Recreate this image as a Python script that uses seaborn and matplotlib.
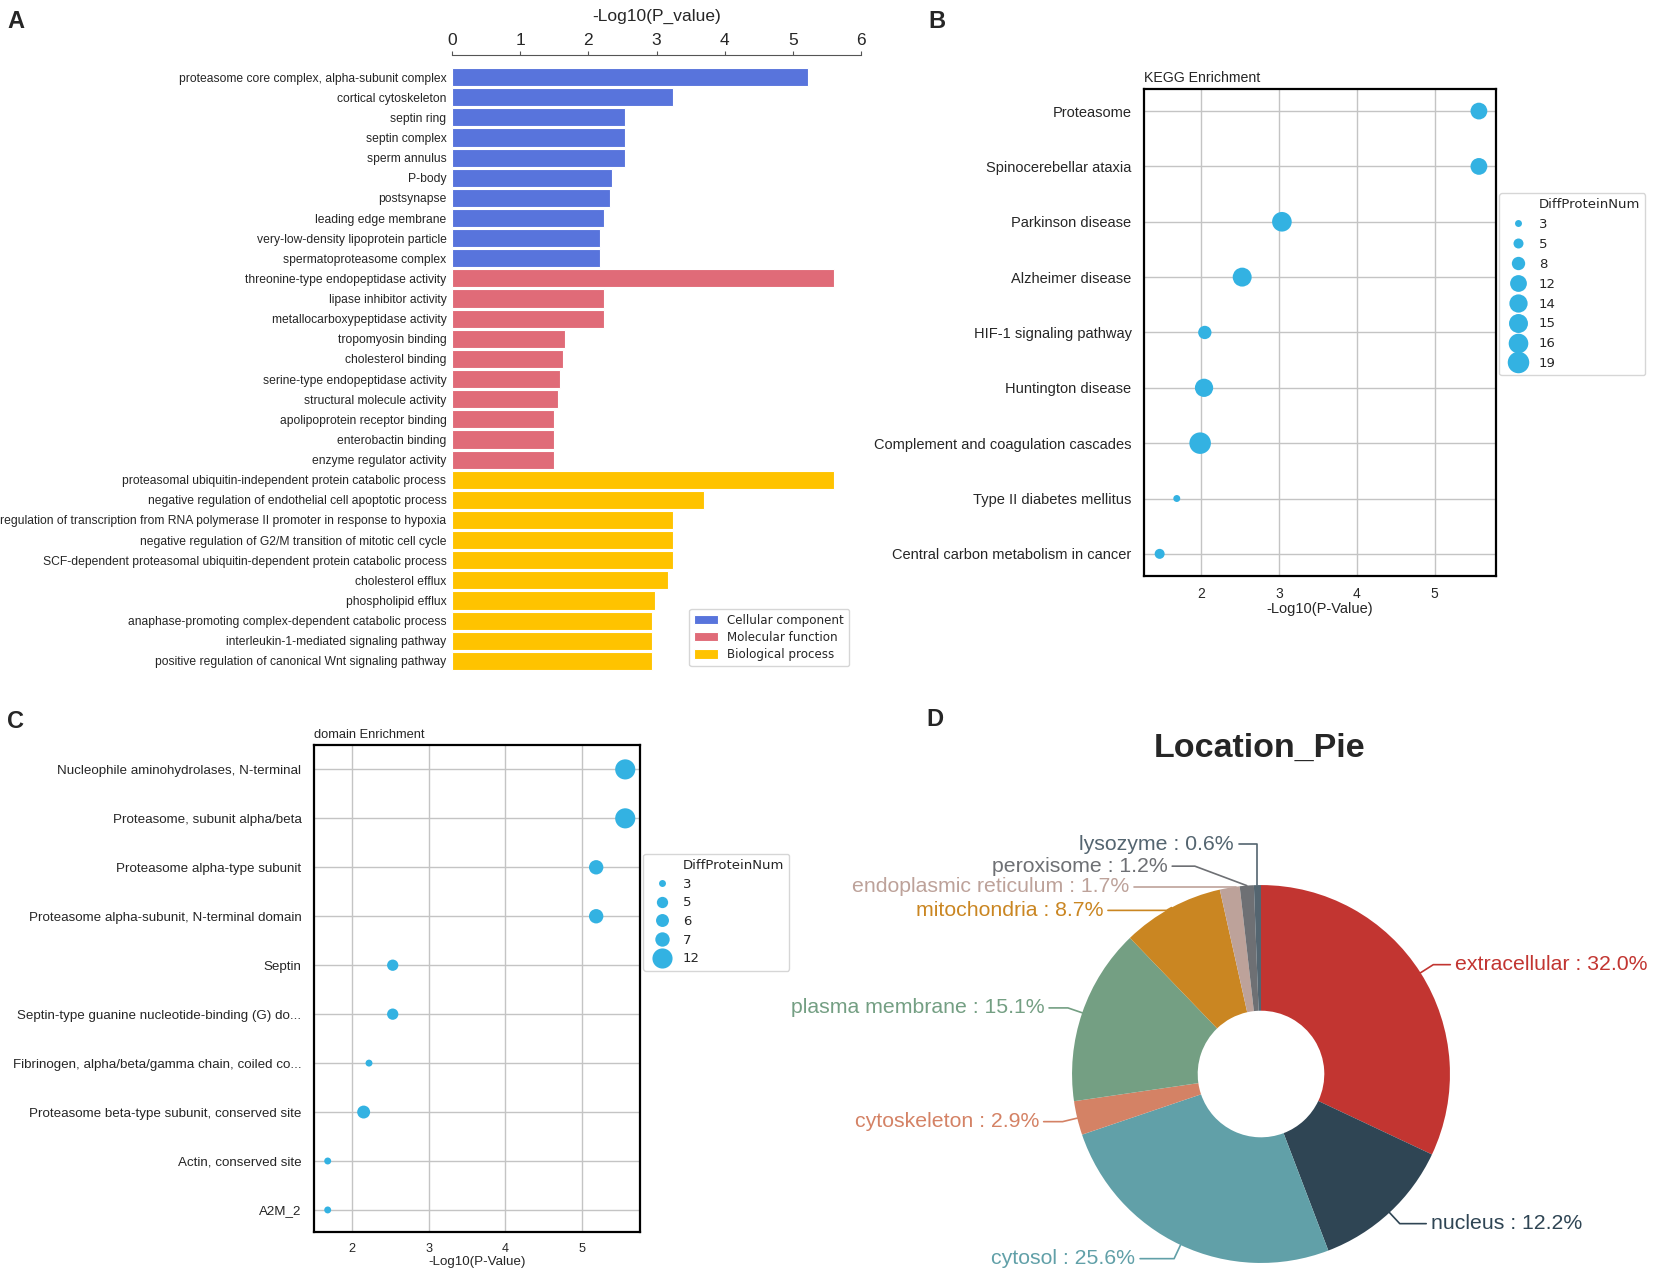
import numpy as np
import pandas as pd
import matplotlib
matplotlib.use("Agg")
import matplotlib.pyplot as plt
from matplotlib.lines import Line2D
import seaborn as sns

# ---------------- data ----------------
go_terms = [
    "proteasome core complex, alpha-subunit complex", "cortical cytoskeleton", "septin ring",
    "septin complex", "sperm annulus", "P-body", "postsynapse", "leading edge membrane",
    "very-low-density lipoprotein particle", "spermatoproteasome complex",
    "threonine-type endopeptidase activity", "lipase inhibitor activity",
    "metallocarboxypeptidase activity", "tropomyosin binding", "cholesterol binding",
    "serine-type endopeptidase activity", "structural molecule activity",
    "apolipoprotein receptor binding", "enterobactin binding", "enzyme regulator activity",
    "proteasomal ubiquitin-independent protein catabolic process",
    "negative regulation of endothelial cell apoptotic process",
    "regulation of transcription from RNA polymerase II promoter in response to hypoxia",
    "negative regulation of G2/M transition of mitotic cell cycle",
    "SCF-dependent proteasomal ubiquitin-dependent protein catabolic process",
    "cholesterol efflux", "phospholipid efflux",
    "anaphase-promoting complex-dependent catabolic process",
    "interleukin-1-mediated signaling pathway",
    "positive regulation of canonical Wnt signaling pathway",
]
go_values = [5.22, 3.24, 2.54, 2.54, 2.54, 2.35, 2.32, 2.23, 2.17, 2.17,
             5.61, 2.23, 2.23, 1.66, 1.63, 1.59, 1.56, 1.49, 1.49, 1.49,
             5.61, 3.70, 3.24, 3.24, 3.24, 3.17, 2.98, 2.93, 2.93, 2.93]
go_groups = ["Cellular component", "Molecular function", "Biological process"]
go_category = [go_groups[0]] * 10 + [go_groups[1]] * 10 + [go_groups[2]] * 10
go_colors = ["#5874DC", "#E06B78", "#FFC300"]

kegg_terms = ["Proteasome", "Spinocerebellar ataxia", "Parkinson disease", "Alzheimer disease",
              "HIF-1 signaling pathway", "Huntington disease",
              "Complement and coagulation cascades", "Type II diabetes mellitus",
              "Central carbon metabolism in cancer"]
kegg_logp = [5.57, 5.57, 3.04, 2.53, 2.05, 2.04, 1.99, 1.69, 1.47]
kegg_num = [12, 12, 16, 15, 8, 14, 19, 3, 5]

dom_terms = ["Nucleophile aminohydrolases, N-terminal", "Proteasome, subunit alpha/beta",
             "Proteasome alpha-type subunit", "Proteasome alpha-subunit, N-terminal domain",
             "Septin", "Septin-type guanine nucleotide-binding (G) do...",
             "Fibrinogen, alpha/beta/gamma chain, coiled co...",
             "Proteasome beta-type subunit, conserved site", "Actin, conserved site", "A2M_2"]
dom_logp = [5.57, 5.57, 5.19, 5.19, 2.53, 2.53, 2.22, 2.15, 1.68, 1.68]
dom_num = [12, 12, 7, 7, 5, 5, 3, 6, 3, 3]

loc_names = ["extracellular", "nucleus", "cytosol", "cytoskeleton", "plasma membrane",
             "mitochondria", "endoplasmic reticulum", "peroxisome", "lysozyme"]
loc_pct = [32.0, 12.2, 25.6, 2.9, 15.1, 8.7, 1.7, 1.2, 0.6]
loc_colors = ["#c23531", "#2f4554", "#61a0a8", "#d48265", "#749f83",
              "#ca8622", "#bda29a", "#6e7074", "#546570"]

dot_color = "#33B2E2"

# ---------------- style ----------------
sns.set_style("white")
plt.rcParams['font.family'] = ['Liberation Sans', 'DejaVu Sans']

fig = plt.figure(figsize=(16.54, 12.76), dpi=100)

# ---------------- A: GO bar chart ----------------
go_df = pd.DataFrame({"term": go_terms, "value": go_values, "category": go_category})
ax_a = fig.add_axes([0.2733, 0.4734, 0.2473, 0.4835])
sns.barplot(data=go_df, x="value", y="term", hue="category", hue_order=go_groups,
            palette=go_colors, saturation=1, dodge=False, width=0.9, edgecolor="white",
            linewidth=0.8, orient="h", ax=ax_a)
ax_a.set_xlim(0, 6)
ax_a.set_ylim(29.55, -1.1)
ax_a.xaxis.tick_top()
ax_a.xaxis.set_label_position("top")
ax_a.set_xticks(range(7))
ax_a.set_xlabel("-Log10(P_value)", fontsize=12.5, labelpad=9)
ax_a.set_ylabel("")
for s in ["left", "right", "bottom"]:
    ax_a.spines[s].set_visible(False)
ax_a.spines["top"].set_color("#555555")
ax_a.tick_params(axis="x", length=3, color="#555555", labelsize=12.5, pad=2)
ax_a.tick_params(axis="y", length=3, color="#555555", labelsize=8.7, pad=1)
h, l = ax_a.get_legend_handles_labels()
ax_a.legend(h, l, loc="lower right", bbox_to_anchor=(0.985, 0.0),
            prop={"family": "DejaVu Sans", "size": 8.6}, frameon=True,
            handlelength=2.0, handleheight=0.8, labelspacing=0.35, borderpad=0.4)


def dot_panel(ax, terms, logp, nums, title, xlim, ylim, sizes, fsize, leg_anchor, spacing):
    df = pd.DataFrame({"term": terms, "logp": logp, "num": nums})
    sns.scatterplot(data=df, x="logp", y="term", size="num", sizes=sizes,
                    color=dot_color, linewidth=0, legend="full", ax=ax, zorder=3)
    ax.set_xlim(*xlim)
    ax.set_ylim(*ylim)
    ax.set_xticks([2, 3, 4, 5])
    ax.grid(True, color="#c4c4c4", linewidth=1.0)
    ax.set_axisbelow(True)
    for s in ax.spines.values():
        s.set_visible(True)
        s.set_color("black")
        s.set_linewidth(1.6)
    ax.tick_params(axis="y", length=0, labelsize=fsize, pad=9)
    ax.tick_params(axis="x", length=0, labelsize=fsize - 0.5, pad=8)
    ax.set_ylabel("")
    ax.set_xlabel("-Log10(P-Value)", fontsize=fsize, labelpad=1)
    ax.set_title(title, loc="left", fontsize=fsize - 0.3, pad=5)
    h, l = ax.get_legend_handles_labels()
    blank = Line2D([], [], linestyle="none")
    ax.legend([blank] + h, ["DiffProteinNum"] + l, loc="upper left",
              bbox_to_anchor=leg_anchor, frameon=True,
              prop={"family": "DejaVu Sans", "size": 9.5},
              labelspacing=spacing, handletextpad=0.6, borderpad=0.4)


# ---------------- B: KEGG ----------------
ax_b = fig.add_axes([0.6917, 0.5486, 0.2128, 0.3817])
dot_panel(ax_b, kegg_terms, kegg_logp, kegg_num, "KEGG Enrichment",
          (1.27, 5.79), (8.4, -0.4), (25, 240), 10.5, (0.99, 0.80), 0.52)

# ---------------- C: domain ----------------
ax_c = fig.add_axes([0.1898, 0.0345, 0.1970, 0.3817])
dot_panel(ax_c, dom_terms, dom_logp, dom_num, "domain Enrichment",
          (1.50, 5.76), (9.45, -0.5), (25, 210), 9.6, (0.99, 0.79), 0.43)

# ---------------- D: location donut ----------------
ax_d = fig.add_axes([820 / 1654, 0.0, 834 / 1654, 496 / 1276])
ax_d.pie(loc_pct, colors=loc_colors, startangle=90, counterclock=False, radius=1.0,
         wedgeprops=dict(width=1 - 0.335, linewidth=0))
ax_d.set_xlim(-2.333, 2.079)
ax_d.set_ylim(-1.069, 1.556)
ax_d.set_aspect("equal")
ax_d.axis("off")

cum = np.cumsum(loc_pct)
mids = (cum - np.array(loc_pct) / 2) / 100.0
angles = np.deg2rad(90 - 360 * mids)
# elbows placed by hand where the small top slices crowd together
elbow_override = {"mitochondria": (-0.50, 0.866), "endoplasmic reticulum": (-0.13, 0.99),
                  "peroxisome": (-0.35, 1.10), "lysozyme": (None, 1.215)}
seg2 = [0.09, 0.14, 0.18, 0.10, 0.10, 0.31, 0.54, 0.12, 0.10]
for name, pct, col, ang, s2 in zip(loc_names, loc_pct, loc_colors, angles, seg2):
    x0, y0 = np.cos(ang), np.sin(ang)
    x1, y1 = 1.08 * x0, 1.08 * y0
    if name in elbow_override:
        ox, oy = elbow_override[name]
        x1 = x0 if ox is None else ox
        y1 = oy
        if name == "endoplasmic reticulum":
            x0, y0 = x1, 0.99
    side = 1 if x0 > 0 else -1
    x2 = x1 + side * s2
    ax_d.plot([x0, x1, x2], [y0, y1, y1], color=col, lw=1.2, clip_on=False)
    ax_d.text(x2 + side * 0.025, y1, f"{name} : {pct:.1f}%", color=col, fontsize=15.3,
              ha="left" if side > 0 else "right", va="center", clip_on=False)

fig.text(1260 / 1654, 1 - 748 / 1276, "Location_Pie", fontsize=24.5, fontweight="bold",
         ha="center", va="center")

# panel letters
for letter, (px, py) in {"A": (16, 21), "B": (937, 21), "C": (16, 721), "D": (935, 719)}.items():
    fig.text(px / 1654, 1 - py / 1276, letter, fontsize=17, fontweight="bold",
             ha="center", va="center")

fig.savefig("out.png", dpi=100)
